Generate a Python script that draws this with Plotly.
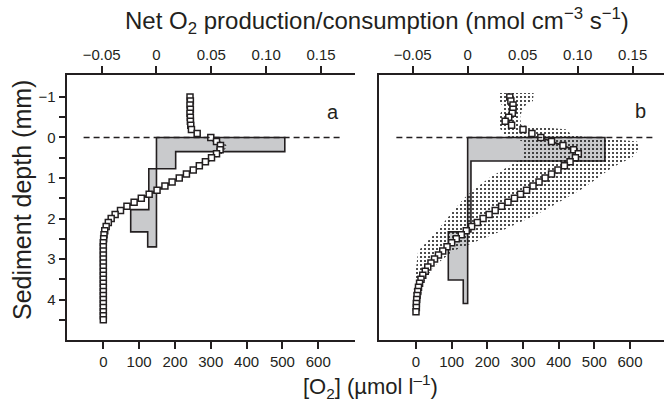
import plotly.graph_objects as go

# ---------------- data ----------------
# Panel a: O2 microprofile (depth in mm, O2 in umol/l)
depth_a = [-1.0, -0.9, -0.8, -0.7, -0.6, -0.5, -0.4, -0.3, -0.2, -0.1,
           0.0, 0.1, 0.2, 0.3, 0.4, 0.5, 0.6, 0.7, 0.8, 0.9,
           1.0, 1.1, 1.2, 1.3, 1.4, 1.5, 1.6, 1.7, 1.8, 1.9,
           2.0, 2.1, 2.2, 2.3, 2.4, 2.5, 2.6, 2.7, 2.8, 2.9,
           3.0, 3.1, 3.2, 3.3, 3.4, 3.5, 3.6, 3.7, 3.8, 3.9,
           4.0, 4.1, 4.2, 4.3, 4.4, 4.5]
o2_a = [242, 243, 242, 243, 242, 243, 243, 244, 246, 262,
        300, 316, 327, 326, 316, 302, 285, 268, 251, 232,
        212, 192, 172, 150, 128, 106, 86, 66, 48, 33,
        22, 14, 8, 4, 2, 1, 0, 0, 0, 0,
        0, 0, 0, 0, 0, 0, 0, 0, 0, 0,
        0, 0, 0, 0, 0, 0]

# Panel a: net O2 production/consumption step profile
rate_edges_a = [0.0, 0.35, 0.77, 1.78, 2.33, 2.7]
rate_a = [0.117, 0.0175, -0.007, -0.0235, -0.008]

# Panel a: narrow envelope of model fits
env_depth_a = [0.0, 0.2, 0.4, 0.8, 1.2, 1.6, 2.0, 2.4]
env_low_a = [290, 316, 306, 242, 164, 82, 17, 0]
env_high_a = [310, 346, 332, 260, 182, 94, 28, 4]

# Panel b
depth_b = [-1.0, -0.9, -0.8, -0.7, -0.6, -0.5, -0.4, -0.3, -0.2, -0.1,
           0.0, 0.1, 0.2, 0.3, 0.4, 0.5, 0.6, 0.7, 0.8, 0.9,
           1.0, 1.1, 1.2, 1.3, 1.4, 1.5, 1.6, 1.7, 1.8, 1.9,
           2.0, 2.1, 2.2, 2.3, 2.4, 2.5, 2.6, 2.7, 2.8, 2.9,
           3.0, 3.1, 3.2, 3.3, 3.4, 3.5, 3.6, 3.7, 3.8, 3.9,
           4.0, 4.1, 4.2, 4.3]
o2_b = [263, 266, 272, 272, 270, 260, 250, 268, 300, 325,
        350, 380, 412, 442, 455, 447, 432, 416, 398, 380,
        362, 345, 328, 310, 293, 276, 258, 240, 222, 205,
        188, 172, 156, 141, 127, 113, 100, 87, 75, 63,
        52, 42, 33, 26, 19, 14, 10, 7, 5, 3,
        2, 1, 1, 0]

rate_edges_b = [0.0, 0.58, 2.33, 3.52, 4.1]
rate_b = [0.1248, 0.003, -0.0176, -0.004]

env_depth_b = [-1.1, -0.9, -0.75, -0.5, -0.3, -0.2, -0.05, 0.1, 0.3, 0.5, 0.65, 0.8,
               1.0, 1.3, 1.5, 1.8, 2.0, 2.35, 2.8, 3.2, 3.6, 4.0, 4.35]
env_low_b = [232, 232, 245, 232, 232, 238, 245, 300, 300, 300, 272, 244,
             205, 160, 135, 105, 87, 55, 6, 0, -5, -8, -8]
env_high_b = [330, 328, 300, 292, 295, 425, 435, 620, 625, 605, 570, 540,
              510, 460, 420, 360, 315, 228, 104, 48, 20, 12, 8]

o2_ticks = [0, 100, 200, 300, 400, 500, 600]
rate_ticks = [-0.05, 0, 0.05, 0.10, 0.15]
rate_ticktext = ["\u22120.05", "0", "0.05", "0.10", "0.15"]
depth_ticks = [-1, 0, 1, 2, 3, 4]
depth_ticktext = ["\u22121", "0", "1", "2", "3", "4"]
depth_minor = [-0.5, 0.5, 1.5, 2.5, 3.5, 4.5]

# ---------------- style ----------------
INK = "#231f20"
GRAY = "#c9cacc"
FONT = "Liberation Sans"
W, H = 664, 405


def step_polygon(edges, vals):
    xs, ys = [0.0], [edges[0]]
    for i, v in enumerate(vals):
        xs += [v, v]
        ys += [edges[i], edges[i + 1]]
    xs += [0.0, 0.0]
    ys += [edges[-1], edges[0]]
    return xs, ys


fig = go.Figure()

panels = [
    dict(xr="x", xo="x2", y="y", depth=depth_a, o2=o2_a, edges=rate_edges_a, rate=rate_a,
         ed=env_depth_a, el=env_low_a, eh=env_high_a),
    dict(xr="x3", xo="x4", y="y2", depth=depth_b, o2=o2_b, edges=rate_edges_b, rate=rate_b,
         ed=env_depth_b, el=env_low_b, eh=env_high_b),
]

for p in panels:
    px, py = step_polygon(p["edges"], p["rate"])
    fig.add_trace(go.Scatter(x=px, y=py, xaxis=p["xr"], yaxis=p["y"], mode="lines",
                             fill="toself", fillcolor=GRAY,
                             line=dict(color=INK, width=1.6), hoverinfo="skip",
                             showlegend=False))
    # stippled envelope
    fig.add_trace(go.Scatter(x=p["el"] + p["eh"][::-1], y=p["ed"] + p["ed"][::-1],
                             xaxis=p["xo"], yaxis=p["y"], mode="lines",
                             fill="toself", fillcolor="rgba(0,0,0,0)",
                             fillpattern=dict(shape=".", fgcolor="#111111", bgcolor="rgba(0,0,0,0)",
                                              size=4, solidity=0.2, fillmode="replace"),
                             line=dict(width=0, color="rgba(0,0,0,0)"),
                             hoverinfo="skip", showlegend=False))
    # model line (below the sediment surface)
    md = [d for d in p["depth"] if d >= 0]
    mo = [o for d, o in zip(p["depth"], p["o2"]) if d >= 0]
    fig.add_trace(go.Scatter(x=mo, y=md, xaxis=p["xo"], yaxis=p["y"], mode="lines",
                             line=dict(color=INK, width=1.8), showlegend=False))
    # measured points
    fig.add_trace(go.Scatter(x=p["o2"], y=p["depth"], xaxis=p["xo"], yaxis=p["y"],
                             mode="markers",
                             marker=dict(symbol="square", size=6, color="white",
                                         line=dict(color=INK, width=1.5)),
                             showlegend=False))

xa = [67.3 / W, 355 / W]
xb = [379 / W, 1.0]
yd = [1 - 340 / H, 1 - 75 / H]
yrange = [5.0, -1.543]

axis_common = dict(showgrid=False, zeroline=False, showline=True, linecolor=INK,
                   linewidth=1.6, ticks="outside", ticklen=7, tickwidth=1.5,
                   tickcolor=INK, tickfont=dict(family=FONT, size=15, color=INK))

fig.update_layout(
    width=W, height=H,
    margin=dict(l=0, r=0, t=0, b=0),
    paper_bgcolor="white", plot_bgcolor="rgba(0,0,0,0)",
    font=dict(family=FONT, color=INK),
    xaxis=dict(domain=xa, anchor="y", side="top", range=[-0.0813, 0.181],
               tickvals=rate_ticks, ticktext=rate_ticktext, **axis_common),
    xaxis2=dict(overlaying="x", anchor="y", side="bottom", range=[-100.5, 702.5],
                tickvals=o2_ticks, **axis_common),
    yaxis=dict(domain=yd, anchor="x", range=yrange, tickvals=depth_ticks,
               ticktext=depth_ticktext,
               minor=dict(tickvals=depth_minor, ticks="outside", ticklen=7,
                          tickwidth=1.5, tickcolor=INK),
               **axis_common),
    xaxis3=dict(domain=xb, anchor="y2", side="top", range=[-0.0806, 0.1785],
                tickvals=rate_ticks, ticktext=rate_ticktext, **axis_common),
    xaxis4=dict(overlaying="x3", anchor="y2", side="bottom", range=[-103.7, 695.3],
                tickvals=o2_ticks, **axis_common),
    yaxis2=dict(domain=yd, anchor="x3", range=yrange, showgrid=False, zeroline=False,
                showline=True, linecolor=INK, linewidth=1.6, ticks="",
                showticklabels=False),
)

# dashed sediment surface line
for xref, yref in [("x2", "y"), ("x4", "y2")]:
    fig.add_shape(type="line", xref=xref, yref=yref, x0=-55, x1=668, y0=0, y1=0,
                  line=dict(color=INK, width=1.5, dash="6px,4px"), layer="above")

ann_font = dict(family=FONT, color=INK)
fig.add_annotation(text="Net O<sub>2</sub> production/consumption (nmol cm<sup>\u22123</sup> s<sup>\u22121</sup>)",
                   x=377 / W, y=1 - 21 / H, xref="paper", yref="paper", showarrow=False,
                   font=dict(size=24, **ann_font), xanchor="center", yanchor="middle")
fig.add_annotation(text="[O<sub>2</sub>] (\u00b5mol l<sup>\u20131</sup>)",
                   x=370 / W, y=1 - 386 / H, xref="paper", yref="paper", showarrow=False,
                   font=dict(size=22, **ann_font), xanchor="center", yanchor="middle")
fig.add_annotation(text="Sediment depth (mm)", textangle=-90,
                   x=22 / W, y=1 - 200 / H, xref="paper", yref="paper", showarrow=False,
                   font=dict(size=25, **ann_font), xanchor="center", yanchor="middle")
fig.add_annotation(text="a", x=333 / W, y=1 - 99 / H, xref="paper", yref="paper",
                   showarrow=False, font=dict(size=20, **ann_font))
fig.add_annotation(text="b", x=648 / W, y=1 - 98 / H, xref="paper", yref="paper",
                   showarrow=False, font=dict(size=20, **ann_font))

fig.write_html("out.html")
